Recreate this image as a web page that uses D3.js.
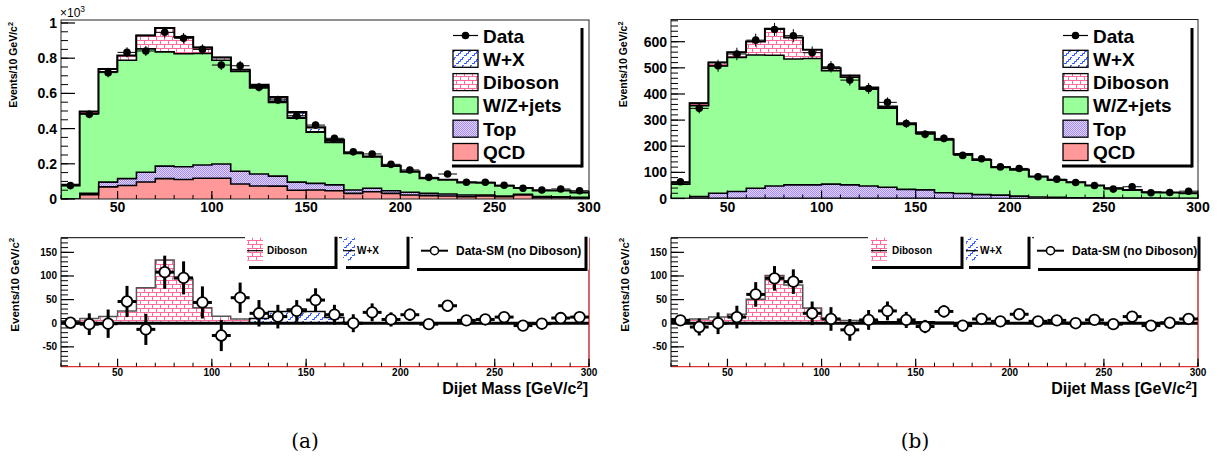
<!DOCTYPE html>
<html><head><meta charset="utf-8">
<script src="https://cdn.jsdelivr.net/npm/d3@7/dist/d3.min.js"></script>
<style>
body{margin:0;background:#fff;}
text{font-family:"Liberation Sans",Arial,Helvetica,sans-serif;}
</style>
</head><body>
<svg id="c" width="1219" height="459"></svg>
<script>
// ---------------- DATA ----------------
const binLow = [20,30,40,50,60,70,80,90,100,110,120,130,140,150,160,170,180,190,200,210,220,230,240,250,260,270,280,290];
const binWidth = 10;
const xTicks = [50,100,150,200,250,300];

// panel (a)
const dataA    = [76,481,718,833,841,947,913,850,761,757,635,563,473,420,345,268,256,197,165,123,142,95,95,78,61,51,57,47];
const dataErrA = [9,22,27,29,29,31,30,29,28,28,25,24,22,20,19,16,16,14,13,11,12,10,10,9,8,7,8,7];
const qcdA     = [0,25,69,77,97,116,111,118,118,85,74,73,50,51,47,32,41,32,23,19,17,13,17,13,23,8,7,5];
const topA     = [0,8,27,39,55,71,72,75,81,73,68,57,46,38,33,19,20,15,15,13,11,10,6,4,3,6,5,4];
const wzA      = [75,453,627,672,701,649,642,634,589,566,489,418,363,290,241,208,178,140,116,85,80,70,68,57,35,33,35,27];
const dibA     = [5,10,14,26,75,134,94,33,15,9,7,5,4,3,2,1,1,1,1,1,0,0,0,0,0,0,0,0];
const wxA      = [0,0,0,0,0,0,0,0,0,0,10,25,30,25,12,0,0,0,0,0,0,0,0,0,0,0,0,0];
const diffA    = [1,-2,-1,46,-13,108,96,44,-26,54,21,14,26,49,18,0,23,8,18,-2,37,6,8,13,-5,-1,11,13];
const diffErrA = [9,23,30,33,33,35,35,34,33,32,28,25,23,25,21,19,19,15,13,10,12,10,10,9,8,7,8,7];
const yTicksA  = [0,200,400,600,800,1000];
const yLabelsA = ["0","0.2","0.4","0.6","0.8","1"];

// panel (b)
const dataB    = [64,345,508,553,606,647,623,558,504,453,421,368,287,246,230,165,152,121,115,83,74,61,50,36,45,22,23,28];
const dataErrB = [8,19,23,24,25,25,25,24,22,21,21,19,17,16,15,13,12,11,11,9,9,8,7,6,7,5,5,5];
const qcdB     = [0,1,1,1,1,1,1,1,1,1,1,1,1,1,0,0,0,0,0,0,0,0,0,0,0,0,0,0];
const topB     = [0,6,19,26,38,47,51,51,54,51,47,42,34,32,22,19,15,13,9,6,5,3,3,2,2,2,1,1];
const wzB      = [55,348,487,513,510,500,482,484,434,412,370,303,248,216,202,151,132,106,100,77,65,58,46,36,30,21,21,18];
const dibB     = [5,9,13,19,51,101,81,32,9,6,4,2,1,1,0,0,0,0,0,0,0,0,0,0,0,0,0,0];
const wxB      = [0,0,0,0,0,0,0,0,0,0,2,3,3,3,2,0,0,0,0,0,0,0,0,0,0,0,0,0];
const diffB    = [6,-8,0,13,61,95,88,21,9,-14,7,26,7,-7,25,-5,9,4,19,4,6,0,7,-2,14,-5,1,9];
const diffErrB = [8,18,23,24,26,26,26,25,25,23,21,20,17,14,13,12,11,10,10,9,9,8,7,7,7,6,5,5];
const yTicksB  = [0,100,200,300,400,500,600];
const yLabelsB = ["0","100","200","300","400","500","600"];

const subTicks  = [-50,0,50,100,150];
const subLabels = ["-50","0","50","100","150"];

const legendNames = ["Data","W+X","Diboson","W/Z+jets","Top","QCD"];
const subLegendNames = ["Diboson","W+X","Data-SM (no Diboson)"];
const captions = ["(a)","(b)"];

// ---------------- SETUP ----------------
const svg = d3.select("#c");
const defs = svg.append("defs");
const COL = {green:"#99ff99", qcd:"#ff9999", brick:"#ff6a98", wx:"#2f55ff", top1:"#a58aff", top2:"#e2d8ff"};

const pb = defs.append("pattern").attr("id","brick").attr("patternUnits","userSpaceOnUse").attr("width",8).attr("height",8);
pb.append("rect").attr("width",8).attr("height",8).attr("fill","#fff");
pb.append("path").attr("d","M0,0.5H8M0,4.5H8M0.5,0.5V4.5M4.5,4.5V8.5").attr("stroke",COL.brick).attr("stroke-width",1).attr("fill","none");

const pw = defs.append("pattern").attr("id","wx").attr("patternUnits","userSpaceOnUse").attr("width",8).attr("height",8);
pw.append("rect").attr("width",8).attr("height",8).attr("fill","#fff");
pw.append("path").attr("d","M0,7.5H2.5V5.5H4.5V3.5H6.5V1.5H8").attr("stroke",COL.wx).attr("stroke-width",1).attr("fill","none");

const pt = defs.append("pattern").attr("id","topp").attr("patternUnits","userSpaceOnUse").attr("width",2).attr("height",2);
pt.append("rect").attr("width",2).attr("height",2).attr("fill",COL.top2);
pt.append("rect").attr("width",1).attr("height",1).attr("fill",COL.top1);
pt.append("rect").attr("x",1).attr("y",1).attr("width",1).attr("height",1).attr("fill",COL.top1);

function stepPts(vals, x, y){
  const pts = [[x(binLow[0]), y(0)]];
  vals.forEach((v,i)=>{ pts.push([x(binLow[i]), y(v)]); pts.push([x(binLow[i]+binWidth), y(v)]); });
  pts.push([x(binLow[binLow.length-1]+binWidth), y(0)]);
  return pts;
}
const line = d3.line();

function supText(g, x, y, base, sup, size, weight, anchor, rotate, supDy){
  const t = g.append("text").attr("font-size",size).attr("font-weight",weight).attr("text-anchor",anchor||"start");
  if(rotate){ t.attr("transform",`translate(${x},${y}) rotate(-90)`); } else { t.attr("x",x).attr("y",y); }
  t.append("tspan").text(base);
  t.append("tspan").attr("font-size",size*0.7).attr("dy",-(supDy||size*0.4)).text(sup);
  return t;
}

function drawPanel(p){
  const g = svg.append("g");
  const x = d3.scaleLinear().domain([20,300]).range([p.x0,p.x1]);
  // ===== TOP =====
  const y = d3.scaleLinear().domain([0,p.yMax]).range([p.yB,p.yT]);
  const cid = "clip"+p.id;
  defs.append("clipPath").attr("id",cid).append("rect")
    .attr("x",p.x0).attr("y",p.yT).attr("width",p.x1-p.x0).attr("height",p.yB-p.yT);
  const gh = g.append("g").attr("clip-path",`url(#${cid})`);
  const comps = [p.qcd,p.top,p.wz,p.dib,p.wx];
  const cum = []; let run = binLow.map(()=>0);
  comps.forEach(c=>{ run = run.map((r,i)=>r+c[i]); cum.push(run); });
  const fills = ["url(#wx)","url(#brick)",COL.green,"url(#topp)",COL.qcd];
  [4,3,2,1,0].forEach((k,j)=>{
    const pts = stepPts(cum[k],x,y);
    gh.append("path").attr("d",line(pts)+"Z").attr("fill",fills[j]).attr("stroke","none");
    gh.append("path").attr("d",line(pts)).attr("fill","none").attr("stroke","#000")
      .attr("stroke-width", k===4?2.4:1.6);
  });
  const gd = g.append("g");
  p.data.forEach((v,i)=>{
    const cx = x(binLow[i]+binWidth/2);
    gd.append("line").attr("x1",x(binLow[i])).attr("x2",x(binLow[i]+binWidth)).attr("y1",y(v)).attr("y2",y(v)).attr("stroke","#000").attr("stroke-width",1);
    gd.append("line").attr("x1",cx).attr("x2",cx).attr("y1",y(v-p.dataErr[i])).attr("y2",y(v+p.dataErr[i])).attr("stroke","#000").attr("stroke-width",1);
    gd.append("circle").attr("cx",cx).attr("cy",y(v)).attr("r",3.8).attr("fill","#000");
  });
  g.append("rect").attr("x",p.x0).attr("y",p.yT).attr("width",p.x1-p.x0).attr("height",p.yB-p.yT)
    .attr("fill","none").attr("stroke","#222").attr("stroke-width",1);
  p.yMinor.forEach(v=>{ g.append("line").attr("x1",p.x0).attr("x2",p.x0+7).attr("y1",y(v)).attr("y2",y(v)).attr("stroke","#000").attr("stroke-width",1); });
  p.yTicks.forEach((v,i)=>{
    g.append("line").attr("x1",p.x0).attr("x2",p.x0+14).attr("y1",y(v)).attr("y2",y(v)).attr("stroke","#000").attr("stroke-width",1.2);
    g.append("text").attr("x",p.x0-4).attr("y",y(v)+5).attr("text-anchor","end").attr("font-size",14).attr("font-weight","bold").text(p.yLabels[i]);
  });
  d3.range(20,301,10).forEach(v=>{ g.append("line").attr("x1",x(v)).attr("x2",x(v)).attr("y1",p.yB).attr("y2",p.yB-4).attr("stroke","#000"); });
  xTicks.forEach(v=>{
    g.append("line").attr("x1",x(v)).attr("x2",x(v)).attr("y1",p.yB).attr("y2",p.yB-8).attr("stroke","#000").attr("stroke-width",1.2);
    g.append("text").attr("x",x(v)).attr("y",p.yB+13).attr("text-anchor","middle").attr("font-size",14).attr("font-weight","bold").text(v);
  });
  if(p.exp){ supText(g, p.x0-1, 17, "×10", "3", 12, "normal", "start", false); }
  supText(g, p.titleX, p.yT+2, "Events/10 GeV/c", "2", 10.5, "bold", "end", true);
  const L = p.leg;
  g.append("rect").attr("x",L.x).attr("y",L.y).attr("width",L.r-L.x).attr("height",L.b-L.y).attr("fill","#fff");
  g.append("line").attr("x1",L.r).attr("x2",L.r).attr("y1",L.y).attr("y2",L.b+1.5).attr("stroke","#000").attr("stroke-width",3);
  g.append("line").attr("x1",L.x).attr("x2",L.r).attr("y1",L.b).attr("y2",L.b).attr("stroke","#000").attr("stroke-width",3);
  const legFills = [null,"url(#wx)","url(#brick)",COL.green,"url(#topp)",COL.qcd];
  legendNames.forEach((nm,i)=>{
    const cy = L.row0 + i*23.3;
    if(i===0){
      g.append("line").attr("x1",L.bx).attr("x2",L.bx+25).attr("y1",cy).attr("y2",cy).attr("stroke","#000").attr("stroke-width",1.2);
      g.append("circle").attr("cx",L.bx+12.5).attr("cy",cy).attr("r",3.8).attr("fill","#000");
    } else {
      g.append("rect").attr("x",L.bx).attr("y",cy-8.5).attr("width",25).attr("height",17).attr("fill",legFills[i]).attr("stroke","#000").attr("stroke-width",1.3);
    }
    g.append("text").attr("x",L.tx).attr("y",cy+7).attr("font-size",19).attr("font-weight","bold").text(nm);
  });

  // ===== BOTTOM =====
  const ys = d3.scaleLinear().domain([-92,181]).range([p.sB,p.sT]);
  const cid2 = "clipS"+p.id;
  defs.append("clipPath").attr("id",cid2).append("rect")
    .attr("x",p.x0).attr("y",p.sT).attr("width",p.x1-p.x0).attr("height",p.sB-p.sT);
  const gs = g.append("g").attr("clip-path",`url(#${cid2})`);
  const dp = stepPts(p.dib,x,ys);
  gs.append("path").attr("d",line(dp)+"Z").attr("fill","url(#brick)");
  gs.append("path").attr("d",line(dp)).attr("fill","none").attr("stroke","#555").attr("stroke-width",1.5);
  const wp = stepPts(p.wx,x,ys);
  gs.append("path").attr("d",line(wp)+"Z").attr("fill","url(#wx)");
  gs.append("path").attr("d",line(wp)).attr("fill","none").attr("stroke","#000").attr("stroke-width",1.5);
  g.append("line").attr("x1",p.x0).attr("x2",p.x1).attr("y1",ys(0)).attr("y2",ys(0)).attr("stroke","#000").attr("stroke-width",3);
  g.append("line").attr("x1",p.x0).attr("x2",p.x1).attr("y1",p.sT).attr("y2",p.sT).attr("stroke","#000").attr("stroke-width",1);
  g.append("line").attr("x1",p.x0).attr("x2",p.x1).attr("y1",p.sB).attr("y2",p.sB).attr("stroke","#e03030").attr("stroke-width",1.2);
  g.append("line").attr("x1",p.x1).attr("x2",p.x1).attr("y1",p.sT).attr("y2",p.sB).attr("stroke","#c00000").attr("stroke-width",1.2);
  g.append("line").attr("x1",p.x0).attr("x2",p.x0).attr("y1",p.sT).attr("y2",p.sB).attr("stroke","#000").attr("stroke-width",1);
  d3.range(-90,181,10).forEach(v=>{ g.append("line").attr("x1",p.x0).attr("x2",p.x0+7).attr("y1",ys(v)).attr("y2",ys(v)).attr("stroke","#000"); });
  subTicks.forEach((v,i)=>{
    g.append("line").attr("x1",p.x0).attr("x2",p.x0+13).attr("y1",ys(v)).attr("y2",ys(v)).attr("stroke","#000").attr("stroke-width",1.2);
    g.append("text").attr("x",p.x0-4).attr("y",ys(v)+3.5).attr("text-anchor","end").attr("font-size",10).attr("font-weight","bold").text(subLabels[i]);
  });
  d3.range(20,301,10).forEach(v=>{ g.append("line").attr("x1",x(v)).attr("x2",x(v)).attr("y1",p.sB).attr("y2",p.sB-4).attr("stroke","#000"); });
  xTicks.forEach(v=>{
    g.append("line").attr("x1",x(v)).attr("x2",x(v)).attr("y1",p.sB).attr("y2",p.sB-8).attr("stroke","#000").attr("stroke-width",1.2);
    g.append("text").attr("x",x(v)).attr("y",p.sB+9).attr("text-anchor","middle").attr("font-size",10).attr("font-weight","bold").text(v);
  });
  supText(g, p.x1-1, p.sB+27, "Dijet Mass [GeV/c", "2", 16, "bold", "end", false, 5).append("tspan").attr("font-size",16).attr("dy",5).text("]");
  supText(g, p.sTitleX, p.sT, "Events/10 GeV/c", "2", 11.5, "bold", "end", true);
  const gp = g.append("g");
  p.diff.forEach((v,i)=>{
    const cx = x(binLow[i]+binWidth/2);
    gp.append("line").attr("x1",x(binLow[i])).attr("x2",x(binLow[i]+binWidth)).attr("y1",ys(v)).attr("y2",ys(v)).attr("stroke","#000").attr("stroke-width",3);
    gp.append("line").attr("x1",cx).attr("x2",cx).attr("y1",ys(v-p.diffErr[i])).attr("y2",ys(v+p.diffErr[i])).attr("stroke","#000").attr("stroke-width",3);
    gp.append("circle").attr("cx",cx).attr("cy",ys(v)).attr("r",5.3).attr("fill","#fff").attr("stroke","#000").attr("stroke-width",1.8);
  });
  p.subLeg.forEach((s,i)=>{
    g.append("rect").attr("x",s.x).attr("y",p.sT-1).attr("width",s.r-s.x+3).attr("height",s.b-p.sT+1).attr("fill","#fff");
    g.append("line").attr("x1",s.r).attr("x2",s.r).attr("y1",p.sT-1).attr("y2",s.b+1.5).attr("stroke","#000").attr("stroke-width",3);
    g.append("line").attr("x1",s.x+4).attr("x2",s.r).attr("y1",s.b).attr("y2",s.b).attr("stroke","#000").attr("stroke-width",3);
    const cy = p.sT+13;
    if(i<2){
      g.append("rect").attr("x",s.bx).attr("y",p.sT).attr("width",s.bw).attr("height",23).attr("fill",i===0?"url(#brick)":"url(#wx)");
      g.append("line").attr("x1",s.bx).attr("x2",s.bx+s.bw).attr("y1",cy).attr("y2",cy).attr("stroke","#000").attr("stroke-width",1.2);
      g.append("text").attr("x",s.tx).attr("y",cy+3.5).attr("font-size",10).attr("font-weight","bold").text(subLegendNames[i]);
    } else {
      g.append("line").attr("x1",s.bx).attr("x2",s.bx+27).attr("y1",cy).attr("y2",cy).attr("stroke","#000").attr("stroke-width",2);
      g.append("circle").attr("cx",s.bx+13.5).attr("cy",cy).attr("r",4).attr("fill","#fff").attr("stroke","#000").attr("stroke-width",1.5);
      g.append("text").attr("x",s.tx).attr("y",cy+4).attr("font-size",12).attr("font-weight","bold").text(subLegendNames[i]);
    }
  });
  g.append("text").attr("x",p.capX).attr("y",448).attr("text-anchor","middle")
    .style("font-family","'DejaVu Serif','Liberation Serif',serif").attr("font-size",20).text(p.caption);
}

drawPanel({id:"A", x0:61, x1:589, yT:20, yB:199, yMax:1017,
  yTicks:yTicksA, yLabels:yLabelsA, yMinor:d3.range(0,1001,50), exp:true, titleX:17,
  data:dataA, dataErr:dataErrA, qcd:qcdA, top:topA, wz:wzA, dib:dibA, wx:wxA,
  diff:diffA, diffErr:diffErrA,
  leg:{x:452,y:28,r:582,b:166,bx:453,tx:483,row0:35.5},
  sT:237.7, sB:366.7, sTitleX:19,
  subLeg:[{x:245,r:336,b:267.5,bx:247,bw:16,tx:267},{x:342,r:408,b:267.5,bx:343,bw:12,tx:357},{x:413,r:586,b:269.5,bx:421,tx:456}],
  capX:305, caption:captions[0]});

drawPanel({id:"B", x0:671, x1:1198, yT:19.5, yB:198.5, yMax:685,
  yTicks:yTicksB, yLabels:yLabelsB, yMinor:d3.range(0,681,20), exp:false, titleX:627,
  data:dataB, dataErr:dataErrB, qcd:qcdB, top:topB, wz:wzB, dib:dibB, wx:wxB,
  diff:diffB, diffErr:diffErrB,
  leg:{x:1062,y:28,r:1192,b:166,bx:1063,tx:1093,row0:35.5},
  sT:237.7, sB:366.7, sTitleX:629,
  subLeg:[{x:868,r:962,b:267.5,bx:871,bw:16,tx:892},{x:965,r:1029,b:267.5,bx:966,bw:12,tx:980},{x:1034,r:1199,b:269.5,bx:1037,tx:1072}],
  capX:915, caption:captions[1]});
</script>
</body></html>
